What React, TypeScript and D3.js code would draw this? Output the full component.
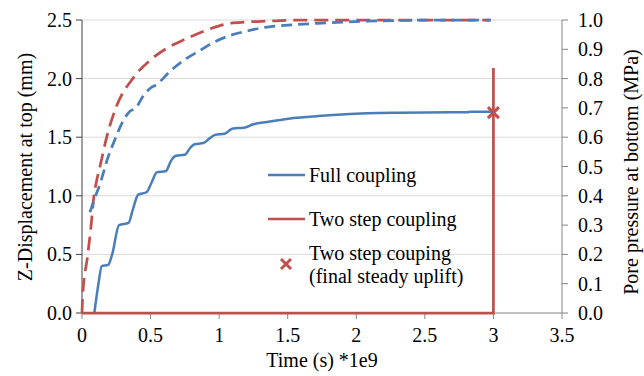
import React from "react";
import * as d3 from "d3";

// Full coupling – displacement (left axis, mm)
const fullDispT = [0.09, 0.12, 0.144, 0.19, 0.22, 0.27, 0.34, 0.37, 0.41, 0.47, 0.51, 0.545, 0.61, 0.65, 0.68, 0.75, 0.79, 0.82, 0.885, 0.93, 0.97, 1.04, 1.10, 1.18, 1.25, 1.35, 1.52, 1.66, 1.83, 2.08, 2.32, 2.69, 2.81, 2.83, 2.99];
const fullDispY = [0, 0.25, 0.40, 0.41, 0.5, 0.75, 0.77, 0.88, 1.01, 1.03, 1.12, 1.20, 1.21, 1.30, 1.34, 1.35, 1.41, 1.44, 1.45, 1.49, 1.52, 1.53, 1.575, 1.58, 1.61, 1.63, 1.66, 1.675, 1.69, 1.704, 1.709, 1.712, 1.712, 1.717, 1.717];

// Full coupling – pore pressure (right axis, MPa)
const fullPoreT = [0.058, 0.09, 0.131, 0.19, 0.24, 0.30, 0.34, 0.40, 0.44, 0.50, 0.545, 0.64, 0.76, 0.86, 0.93, 1.06, 1.18, 1.35, 1.54, 1.79, 2.08, 2.69, 2.98];
const fullPoreP = [0.344, 0.388, 0.44, 0.532, 0.592, 0.656, 0.684, 0.704, 0.736, 0.768, 0.78, 0.824, 0.868, 0.896, 0.916, 0.944, 0.96, 0.976, 0.984, 0.99, 0.996, 1.0, 1.0];

// Two step coupling – pore pressure (right axis, MPa)
const twoPoreT = [0, 0.005, 0.04, 0.07, 0.083, 0.107, 0.131, 0.18, 0.25, 0.37, 0.50, 0.62, 0.76, 0.91, 1.0, 1.10, 1.35, 1.6, 2.98];
const twoPoreP = [0, 0.06, 0.192, 0.316, 0.384, 0.452, 0.5, 0.6, 0.704, 0.8, 0.864, 0.904, 0.936, 0.966, 0.98, 0.99, 0.996, 1.0, 1.0];

// Two step coupling – displacement (left axis, mm)
const twoDispT = [0, 3, 3];
const twoDispY = [0, 0, 2.09];

// Final steady uplift marker
const upliftT = [3];
const upliftY = [1.71];

const xTicks = [0, 0.5, 1, 1.5, 2, 2.5, 3, 3.5];
const xTickLabels = ["0", "0.5", "1", "1.5", "2", "2.5", "3", "3.5"];
const yLeftTicks = [0, 0.5, 1, 1.5, 2, 2.5];
const yRightTicks = [0, 0.1, 0.2, 0.3, 0.4, 0.5, 0.6, 0.7, 0.8, 0.9, 1.0];

const BLUE = "#4a7ebb";
const RED = "#c0504d";
const FONT = "Liberation Serif, Tinos, Times New Roman, DejaVu Serif, serif";

export default function App() {
  const W = 644, H = 376;
  const x = d3.scaleLinear().domain([0, 3.5]).range([82, 562]);
  const yL = d3.scaleLinear().domain([0, 2.5]).range([313, 20]);
  const yR = d3.scaleLinear().domain([0, 1]).range([313, 20]);

  const lineL = d3.line<[number, number]>().x(d => x(d[0])).y(d => yL(d[1])).curve(d3.curveMonotoneX);
  const lineR = d3.line<[number, number]>().x(d => x(d[0])).y(d => yR(d[1])).curve(d3.curveMonotoneX);
  const lineStep = d3.line<[number, number]>().x(d => x(d[0])).y(d => yL(d[1]));

  const zip = (a: number[], b: number[]) => a.map((v, i) => [v, b[i]] as [number, number]);

  const cross = (cx: number, cy: number, s: number) =>
    `M${cx - s},${cy - s}L${cx + s},${cy + s}M${cx - s},${cy + s}L${cx + s},${cy - s}`;

  return (
    <svg width={W} height={H} style={{ position: "absolute", left: 0, top: 0, background: "#fff", fontFamily: FONT }} fontFamily={FONT} fontSize={20}>
      <rect width={W} height={H} fill="#fff" />
      {/* gridlines */}
      {yLeftTicks.slice(1).map(t => (
        <line key={"g" + t} x1={x(0)} x2={x(3.5)} y1={yL(t)} y2={yL(t)} stroke="#d9d9d9" strokeWidth={1} />
      ))}
      {/* bottom axis */}
      <line x1={x(0)} x2={x(3.5)} y1={yL(0)} y2={yL(0)} stroke="#868686" strokeWidth={1} />
      {xTicks.map((t, i) => (
        <g key={"xt" + t}>
          <line x1={x(t)} x2={x(t)} y1={yL(0)} y2={yL(0) + 6} stroke="#868686" />
          <text x={x(t)} y={342} textAnchor="middle" fill="#000">{xTickLabels[i]}</text>
        </g>
      ))}
      {/* left axis */}
      <line x1={x(0)} x2={x(0)} y1={yL(0)} y2={yL(2.5)} stroke="#404040" strokeWidth={1} />
      {yLeftTicks.map(t => (
        <g key={"yl" + t}>
          <line x1={x(0) - 6} x2={x(0)} y1={yL(t)} y2={yL(t)} stroke="#404040" />
          <text x={72} y={yL(t)} dy="0.35em" textAnchor="end" fill="#000">{t.toFixed(1)}</text>
        </g>
      ))}
      {/* right axis */}
      <line x1={x(3.5)} x2={x(3.5)} y1={yR(0)} y2={yR(1)} stroke="#868686" strokeWidth={1} />
      {yRightTicks.map(t => (
        <g key={"yr" + t}>
          <line x1={x(3.5)} x2={x(3.5) + 6} y1={yR(t)} y2={yR(t)} stroke="#868686" />
          <text x={578} y={yR(t)} dy="0.35em" textAnchor="start" fill="#000">{t.toFixed(1)}</text>
        </g>
      ))}
      {/* axis titles */}
      <text x={322} y={367} textAnchor="middle" fill="#000">Time (s) *1e9</text>
      <text transform={`translate(32,167) rotate(-90)`} textAnchor="middle" fill="#000">Z-Displacement at top (mm)</text>
      <text transform={`translate(638,172) rotate(-90)`} textAnchor="middle" fill="#000">Pore pressure at bottom (MPa)</text>

      {/* series */}
      <path d={lineR(zip(twoPoreT, twoPoreP)) || ""} fill="none" stroke={RED} strokeWidth={2.75} strokeDasharray="14,7" />
      <path d={lineR(zip(fullPoreT, fullPoreP)) || ""} fill="none" stroke={BLUE} strokeWidth={2.75} strokeDasharray="11,6" />
      <path d={lineL(zip(fullDispT, fullDispY)) || ""} fill="none" stroke={BLUE} strokeWidth={2.5} />
      <path d={lineStep(zip(twoDispT, twoDispY)) || ""} fill="none" stroke={RED} strokeWidth={2.75} />
      {upliftT.map((t, i) => (
        <path key={"m" + i} d={cross(x(t), yL(upliftY[i]), 5.5)} stroke={RED} strokeWidth={3} fill="none" />
      ))}

      {/* legend */}
      <line x1={268} x2={305} y1={175} y2={175} stroke={BLUE} strokeWidth={2.5} />
      <text x={309} y={182} fill="#000">Full coupling</text>
      <line x1={268} x2={305} y1={219} y2={219} stroke={RED} strokeWidth={2.5} />
      <text x={309} y={226} fill="#000">Two step coupling</text>
      <path d={cross(286, 264, 5)} stroke={RED} strokeWidth={3} fill="none" />
      <text x={309} y={260} fill="#000">Two step couping</text>
      <text x={309} y={283} fill="#000">(final steady uplift)</text>
    </svg>
  );
}
